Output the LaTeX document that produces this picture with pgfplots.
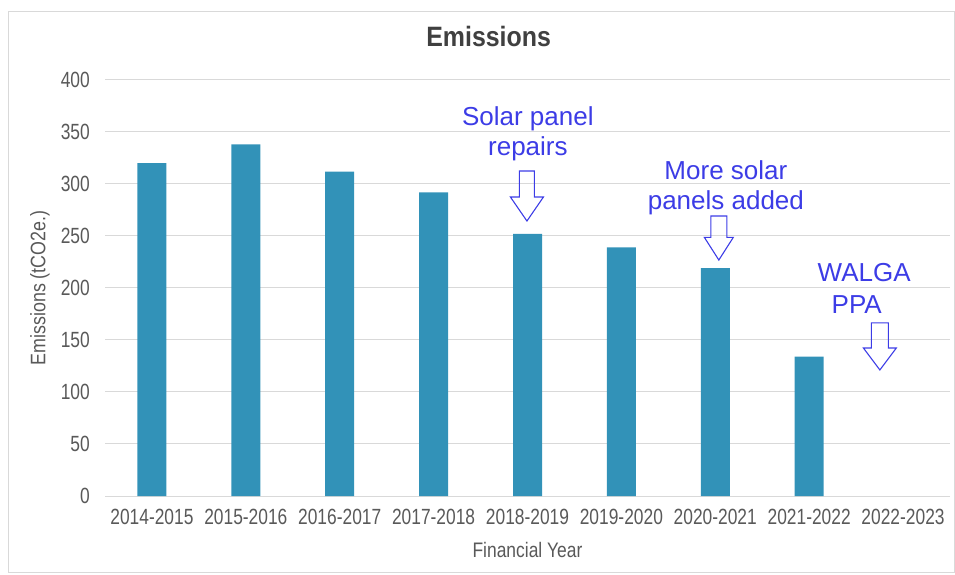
\documentclass[border=0pt]{standalone}
\usepackage{pgfplots}
\pgfplotsset{compat=1.18}
\usepackage{fontspec}
\setmainfont{Liberation Sans}
\newfontfamily\tickfont[FakeStretch=0.79]{Liberation Sans}
\newfontfamily\titlefont[FakeStretch=0.89]{Liberation Sans}
\newfontfamily\ylabfont[FakeStretch=0.85]{Liberation Sans}
\newfontfamily\xlabfont[FakeStretch=0.83]{Liberation Sans}
\definecolor{barblue}{RGB}{50,146,184}
\definecolor{annblue}{RGB}{60,60,230}
\definecolor{tickgray}{RGB}{89,89,89}
\definecolor{gridgray}{RGB}{217,217,217}
\definecolor{titlegray}{RGB}{64,64,64}
\begin{document}
\begin{tikzpicture}
\path[use as bounding box] (0,0) rectangle (955bp,575bp);
\draw[gridgray, line width=1bp] (8bp,2bp) rectangle (954bp,563bp);
\begin{axis}[
  at={(105bp,79bp)}, anchor=south west, scale only axis,
  width=845bp, height=416bp,
  ybar, bar width=29bp,
  xmin=-0.5, xmax=8.5, ymin=0, ymax=400,
  ytick={0,50,...,400},
  xtick={0,...,8},
  xticklabels={2014-2015,2015-2016,2016-2017,2017-2018,2018-2019,2019-2020,2020-2021,2021-2022,2022-2023},
  major tick length=0,
  axis line style={draw=none},
  ymajorgrids, grid style={gridgray, line width=1bp},
  /pgf/number format/assume math mode=true,
  tick label style={font=\tickfont\fontsize{22bp}{24bp}\selectfont, text=tickgray},
  xticklabel style={yshift=-9.7bp},
  yticklabel style={xshift=-11.7bp},
  title={Emissions},
  title style={at={(axis description cs:0.454,1.091)}, anchor=center, font=\titlefont\fontsize{28bp}{32bp}\selectfont\bfseries, text=titlegray},
  xlabel={Financial Year},
  xlabel style={at={(axis description cs:0.5,-0.13)}, anchor=center, font=\xlabfont\fontsize{21bp}{24bp}\selectfont, text=tickgray},
  ylabel={Emissions (tCO2e.)},
  ylabel style={at={(axis description cs:-0.0769,0.5)}, anchor=center, font=\ylabfont\fontsize{21bp}{24bp}\selectfont, text=tickgray},
  clip=false,
]
\addplot[fill=barblue, draw=none] coordinates {(0,320) (1,338) (2,312) (3,292) (4,252) (5,239) (6,219) (7,134)};

\node[annblue, font=\fontsize{26bp}{30bp}\selectfont, align=center, anchor=north, inner sep=0pt] at (axis cs:4.004,375) {Solar panel\\repairs};
\node[annblue, font=\fontsize{26bp}{30bp}\selectfont, align=center, anchor=north, inner sep=0pt] at (axis cs:6.113,323) {More solar\\panels added};
\node[annblue, font=\fontsize{26bp}{30bp}\selectfont, anchor=north west, inner sep=0pt] at (axis cs:7.089,224) {WALGA};
\node[annblue, font=\fontsize{26bp}{30bp}\selectfont, anchor=north west, inner sep=0pt] at (axis cs:7.238,193.3) {PPA};

\draw[annblue, line width=1.1bp, line join=miter] (axis cs:3.994,264.4) -- ++(16.5bp,24bp) -- ++(-9bp,0bp) -- ++(0bp,26bp) -- ++(-15bp,0bp) -- ++(0bp,-26bp) -- ++(-9bp,0bp) -- cycle;
\draw[annblue, line width=1.1bp, line join=miter] (axis cs:6.038,226.9) -- ++(14.5bp,22.7bp) -- ++(-6.5bp,0bp) -- ++(0bp,21.3bp) -- ++(-16bp,0bp) -- ++(0bp,-21.3bp) -- ++(-6.5bp,0bp) -- cycle;
\draw[annblue, line width=1.1bp, line join=miter] (axis cs:7.753,121.2) -- ++(16.5bp,22bp) -- ++(-8bp,0bp) -- ++(0bp,25bp) -- ++(-17bp,0bp) -- ++(0bp,-25bp) -- ++(-8bp,0bp) -- cycle;
\end{axis}
\end{tikzpicture}
\end{document}
